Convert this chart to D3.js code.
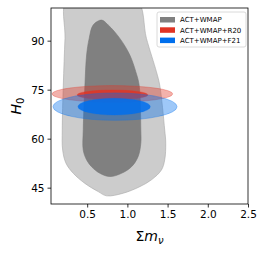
<!DOCTYPE html>
<html lang="en">
<head>
<meta charset="utf-8">
<title>mnu H0</title>
<script src="https://d3js.org/d3.v7.min.js"></script>
<style>
  * { margin:0; padding:0; }
  body { background:#fff; }
  text { font-family: "DejaVu Sans", sans-serif; }
</style>
</head>
<body>
<div id="chart"></div>
<script>
// contour outlines: [sum m_nu, H0]
var actOuter = [[0.245,102.4],[0.68,103],[1.121,102.4],[1.237,90.7],[1.361,80.5],[1.402,76.4],[1.464,62.7],
  [1.477,58.6],[1.464,53.5],[1.423,50.4],[1.299,47.4],[1.154,45.3],[0.947,43.3],[0.741,42.5],
  [0.637,43.8],[0.472,46.3],[0.327,49.4],[0.236,52.5],[0.195,56.5],[0.19,62.7],[0.203,76.4],[0.224,90.7]];
var actInner = [[0.679,96.3],[0.761,94.8],[0.906,90.7],[1.03,85.6],[1.104,80.5],[1.146,76.4],[1.167,62.7],
  [1.167,58.6],[1.133,54.5],[1.051,51.4],[0.927,49.4],[0.782,48.4],[0.658,49.4],[0.555,51.4],
  [0.493,53.5],[0.451,56.5],[0.451,62.7],[0.472,76.4],[0.493,85.6],[0.525,90.7],[0.575,94.8]];
// ellipses: centre mnu, centre H0, half width mnu, half height H0
var r20 = [{cx:0.813, cy:73.7, rx:0.75, ry:2.55}, {cx:0.815, cy:73.4, rx:0.44, ry:1.5}];
var f21 = [{cx:0.846, cy:69.8, rx:0.772, ry:4.2}, {cx:0.835, cy:69.8, rx:0.45, ry:2.55}];
var legendNames = ["ACT+WMAP","ACT+WMAP+R20","ACT+WMAP+F21"];
var legendColors = ["#808080","#E03424","#006FED"];
var xTicks = [0.5,1.0,1.5,2.0,2.5];
var yTicks = [45,60,75,90];

var W=266, H=256;
var m={l:51, t:8, r:18, b:52};
var w=W-m.l-m.r, h=H-m.t-m.b;

var svg=d3.select("#chart").append("svg").attr("width",W).attr("height",H);
var x=d3.scaleLinear().domain([0.05,2.5]).range([0,w]);
var y=d3.scaleLinear().domain([40,100]).range([h,0]);

var g=svg.append("g").attr("transform","translate("+m.l+","+m.t+")");
svg.append("defs").append("clipPath").attr("id","clip")
  .append("rect").attr("width",w).attr("height",h);
var plot=g.append("g").attr("clip-path","url(#clip)");

var line=d3.line().x(function(d){return x(d[0])}).y(function(d){return y(d[1])})
  .curve(d3.curveCatmullRomClosed.alpha(0.5));

plot.append("path").attr("d",line(actOuter))
  .attr("fill","#cccccc").attr("stroke","#a8a8a8").attr("stroke-width",0.6);
plot.append("path").attr("d",line(actInner))
  .attr("fill","#808080").attr("stroke","#777").attr("stroke-width",0.6);

function ell(data,col,ops){
  plot.selectAll(null).data(data).enter().append("ellipse")
    .attr("cx",function(d){return x(d.cx)})
    .attr("cy",function(d){return y(d.cy)})
    .attr("rx",function(d){return x(d.cx+d.rx)-x(d.cx)})
    .attr("ry",function(d){return y(d.cy-d.ry)-y(d.cy)})
    .attr("fill",col)
    .attr("fill-opacity",function(d,i){return ops[i]})
    .attr("stroke",col).attr("stroke-opacity",0.5).attr("stroke-width",0.6);
}
ell(r20,"#E03424",[0.38,0.85]);
ell(f21,"#006FED",[0.38,0.85]);

// axes
var xa=g.append("g").attr("transform","translate(0,"+h+")")
  .call(d3.axisBottom(x).tickValues(xTicks).tickFormat(d3.format(".1f")).tickSizeOuter(0).tickSize(3.5).tickPadding(3));
var ya=g.append("g")
  .call(d3.axisLeft(y).tickValues(yTicks).tickSizeOuter(0).tickSize(3.5).tickPadding(3));
[xa,ya].forEach(function(a){
  a.select(".domain").remove();
  a.selectAll("text").attr("font-size","10.5px").attr("fill","#000").attr("font-family","DejaVu Sans");
  a.selectAll("line").attr("stroke","#000").attr("stroke-width",0.8);
});
g.append("rect").attr("width",w).attr("height",h).attr("fill","none")
  .attr("stroke","#000").attr("stroke-width",0.8);

// axis labels
var xl=svg.append("text").attr("x",m.l+w/2).attr("y",241).attr("text-anchor","middle")
  .attr("font-size","14px");
xl.append("tspan").text("Σ");
xl.append("tspan").attr("font-style","italic").text("m");
xl.append("tspan").attr("font-style","italic").attr("font-size","10px").attr("dy",3).text("ν");

var yl=svg.append("text").attr("transform","translate(21,"+(m.t+h/2)+") rotate(-90)")
  .attr("text-anchor","middle").attr("font-size","14px");
yl.append("tspan").attr("font-style","italic").text("H");
yl.append("tspan").attr("font-size","10px").attr("dy",3).text("0");

// legend
var lg=svg.append("g").attr("transform","translate(157,12)");
lg.append("rect").attr("width",89).attr("height",35).attr("rx",2)
  .attr("fill","#fff").attr("fill-opacity",0.8).attr("stroke","#d0d0d0").attr("stroke-width",0.8);
var items=lg.selectAll(null).data(legendNames).enter().append("g")
  .attr("transform",function(d,i){return "translate(0,"+(5+i*10.3)+")"});
items.append("rect").attr("x",3).attr("width",15).attr("height",5.5)
  .attr("fill",function(d,i){return legendColors[i]});
items.append("text").attr("x",23).attr("y",5.3).attr("font-size","7px").text(function(d){return d});
</script>
</body>
</html>
